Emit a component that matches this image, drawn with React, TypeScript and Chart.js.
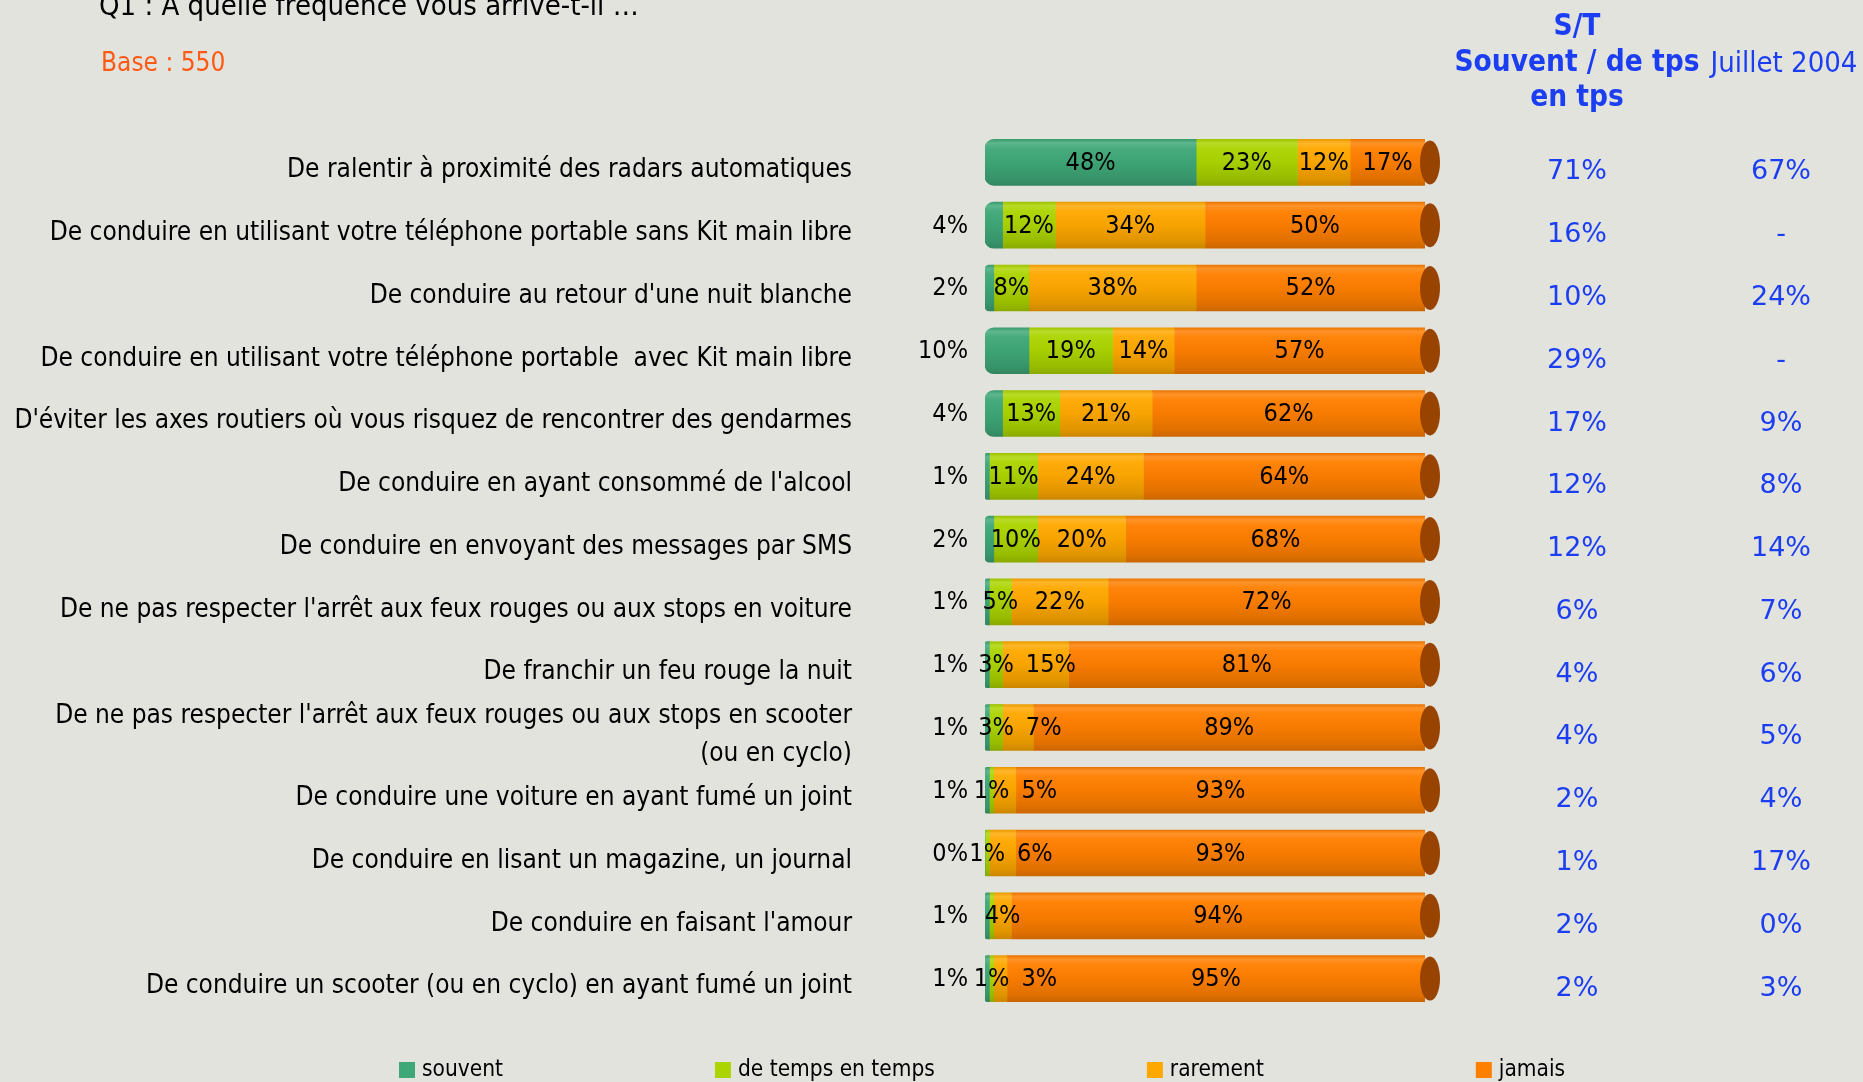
import { useEffect, useRef } from "react";
import { Chart, registerables } from "chart.js";

Chart.register(...registerables);

const categories: (string | string[])[] = [
  "De ralentir à proximité des radars automatiques",
  "De conduire en utilisant votre téléphone portable sans Kit main libre",
  "De conduire au retour d'une nuit blanche",
  "De conduire en utilisant votre téléphone portable  avec Kit main libre",
  "D'éviter les axes routiers où vous risquez de rencontrer des gendarmes",
  "De conduire en ayant consommé de l'alcool",
  "De conduire en envoyant des messages par SMS",
  "De ne pas respecter l'arrêt aux feux rouges ou aux stops en voiture",
  "De franchir un feu rouge la nuit",
  ["De ne pas respecter l'arrêt aux feux rouges ou aux stops en scooter", "(ou en cyclo)"],
  "De conduire une voiture en ayant fumé un joint",
  "De conduire en lisant un magazine, un journal",
  "De conduire en faisant l'amour",
  "De conduire un scooter (ou en cyclo) en ayant fumé un joint",
];

const seriesNames = ["souvent", "de temps en temps", "rarement", "jamais"];
const souvent = [48, 4, 2, 10, 4, 1, 2, 1, 1, 1, 1, 0, 1, 1];
const deTempsEnTemps = [23, 12, 8, 19, 13, 11, 10, 5, 3, 3, 1, 1, 1, 1];
const rarement = [12, 34, 38, 14, 21, 24, 20, 22, 15, 7, 5, 6, 4, 3];
const jamais = [17, 50, 52, 57, 62, 64, 68, 72, 81, 89, 93, 93, 94, 95];
const stValues = ["71%", "16%", "10%", "29%", "17%", "12%", "12%", "6%", "4%", "4%", "2%", "1%", "2%", "2%"];
const juillet2004 = ["67%", "-", "24%", "-", "9%", "8%", "14%", "7%", "6%", "5%", "4%", "17%", "0%", "3%"];
// [row, series] segments whose value label is not printed in the original
const unlabeled: [number, number][] = [[12, 1]];

const series = [souvent, deTempsEnTemps, rarement, jamais];
const colors = ["#3fa878", "#acd400", "#ffa800", "#ff7f00"];
const BLUE = "#1b3ef2";
const BG = "#e3e3de";
const LABEL_FONT = "'DejaVu Sans Condensed'";
const BAR_H = 46;

function shade(hex: string, amt: number): string {
  const n = parseInt(hex.slice(1), 16);
  let r = (n >> 16) & 255, g = (n >> 8) & 255, b = n & 255;
  const f = (c: number) => {
    const v = amt >= 0 ? c + (255 - c) * amt : c * (1 + amt);
    return Math.max(0, Math.min(255, Math.round(v)));
  };
  r = f(r); g = f(g); b = f(b);
  return `rgb(${r},${g},${b})`;
}

const firstNonZero = categories.map((_, i) => series.findIndex((s) => s[i] > 0));

const barDecor = {
  id: "barDecor",
  afterDatasetsDraw(chart: any) {
    const ctx = chart.ctx as CanvasRenderingContext2D;
    const xs = chart.scales.x;
    const ys = chart.scales.y;
    const x0 = xs.getPixelForValue(0);
    const x100 = xs.getPixelForValue(100);
    ctx.save();
    // end caps
    for (let i = 0; i < categories.length; i++) {
      const yc = ys.getPixelForValue(i);
      ctx.fillStyle = "#984400";
      ctx.beginPath();
      ctx.ellipse(x100 + 5, yc, 10, BAR_H / 2 - 1, 0, 0, Math.PI * 2);
      ctx.fill();
    }
    // value labels
    ctx.font = `25px ${LABEL_FONT}`;
    ctx.fillStyle = "#000";
    ctx.textBaseline = "middle";
    for (let i = 0; i < categories.length; i++) {
      const y = ys.getPixelForValue(i) + 1;
      let cum = 0;
      let prevRight = -Infinity;
      series.forEach((vals, d) => {
        const v = vals[i];
        const a = xs.getPixelForValue(cum);
        const b = xs.getPixelForValue(cum + v);
        cum += v;
        if (unlabeled.some(([r, s]) => r === i && s === d)) return;
        const txt = `${v}%`;
        const w = ctx.measureText(txt).width;
        if (d === 0 && v < 20) {
          ctx.textAlign = "right";
          ctx.fillText(txt, x0 - 17, y);
          return;
        }
        let left = (a + b) / 2 - w / 2;
        if (left < prevRight + 12) left = prevRight + 12;
        ctx.textAlign = "left";
        ctx.fillText(txt, left, y);
        prevRight = left + w;
      });
    }
    // right-hand columns
    ctx.font = "27px 'DejaVu Sans'";
    ctx.fillStyle = BLUE;
    ctx.textAlign = "center";
    for (let i = 0; i < categories.length; i++) {
      const y = ys.getPixelForValue(i) + 10;
      ctx.fillText(stValues[i], 1577, y);
      ctx.fillText(juillet2004[i], 1781, y);
    }
    ctx.restore();
  },
  afterDraw(chart: any) {
    const ctx = chart.ctx as CanvasRenderingContext2D;
    ctx.save();
    ctx.textBaseline = "alphabetic";
    ctx.textAlign = "left";
    ctx.fillStyle = "#000";
    ctx.font = `29px ${LABEL_FONT}`;
    ctx.fillText("Q1 : A quelle fréquence vous arrive-t-il …", 99, 15);
    ctx.fillStyle = "#ff5a14";
    ctx.font = `26px ${LABEL_FONT}`;
    ctx.fillText("Base : 550", 101, 71);

    ctx.fillStyle = BLUE;
    ctx.textAlign = "center";
    ctx.font = `bold 29.5px ${LABEL_FONT}`;
    ctx.fillText("S/T", 1577, 35);
    ctx.fillText("Souvent / de tps", 1577, 71);
    ctx.fillText("en tps", 1577, 106);
    ctx.font = `29px ${LABEL_FONT}`;
    ctx.fillText("Juillet 2004", 1784, 72);

    // legend
    ctx.font = `22.5px ${LABEL_FONT}`;
    ctx.textAlign = "left";
    ctx.textBaseline = "middle";
    let x = 399;
    seriesNames.forEach((name, d) => {
      ctx.fillStyle = colors[d];
      ctx.fillRect(x, 1062, 16, 16);
      ctx.fillStyle = "#000";
      ctx.fillText(name, x + 23, 1070);
      x += 23 + ctx.measureText(name).width + 212;
    });
    ctx.restore();
  },
};

export default function App() {
  const ref = useRef<HTMLCanvasElement>(null);
  useEffect(() => {
    const chart = new Chart(ref.current!, {
      type: "bar",
      data: {
        labels: categories as any,
        datasets: series.map((vals, d) => ({
          label: seriesNames[d],
          data: vals,
          barThickness: BAR_H,
          borderSkipped: false,
          borderRadius: (c: any) =>
            c.datasetIndex === firstNonZero[c.dataIndex]
              ? { topLeft: 9, bottomLeft: 9, topRight: 0, bottomRight: 0 }
              : 0,
          backgroundColor: (c: any) => {
            const ys = c.chart.scales && c.chart.scales.y;
            if (!ys || c.dataIndex === undefined) return colors[d];
            const yc = ys.getPixelForValue(c.dataIndex);
            if (!isFinite(yc)) return colors[d];
            const g = c.chart.ctx.createLinearGradient(0, yc - BAR_H / 2, 0, yc + BAR_H / 2);
            const base = colors[d];
            g.addColorStop(0, shade(base, -0.08));
            g.addColorStop(0.08, shade(base, 0.16));
            g.addColorStop(0.2, shade(base, 0.04));
            g.addColorStop(0.5, shade(base, -0.03));
            g.addColorStop(0.85, shade(base, -0.12));
            g.addColorStop(1, shade(base, -0.2));
            return g;
          },
        })),
      },
      options: {
        indexAxis: "y",
        responsive: false,
        animation: false,
        layout: { padding: { top: 131, bottom: 72, left: 0, right: 438 } },
        plugins: {
          legend: { display: false },
          tooltip: { enabled: false },
        },
        scales: {
          x: { stacked: true, min: 0, max: 100, display: false },
          y: {
            stacked: true,
            grid: { display: false, drawTicks: false },
            border: { display: false },
            afterFit: (scale: any) => {
              scale.width = 985;
              scale.paddingTop = 0;
              scale.paddingBottom = 0;
            },
            ticks: {
              autoSkip: false,
              padding: 133,
              labelOffset: 8,
              color: "#000",
              font: { family: LABEL_FONT, size: 26, lineHeight: 1.45 },
            },
          },
        },
      },
      plugins: [barDecor],
    } as any);
    return () => chart.destroy();
  }, []);
  return (
    <div style={{ position: "fixed", left: 0, top: 0, width: 1863, height: 1082, background: BG }}>
      <canvas ref={ref} width={1863} height={1082} style={{ display: "block", width: 1863, height: 1082 }} />
    </div>
  );
}
